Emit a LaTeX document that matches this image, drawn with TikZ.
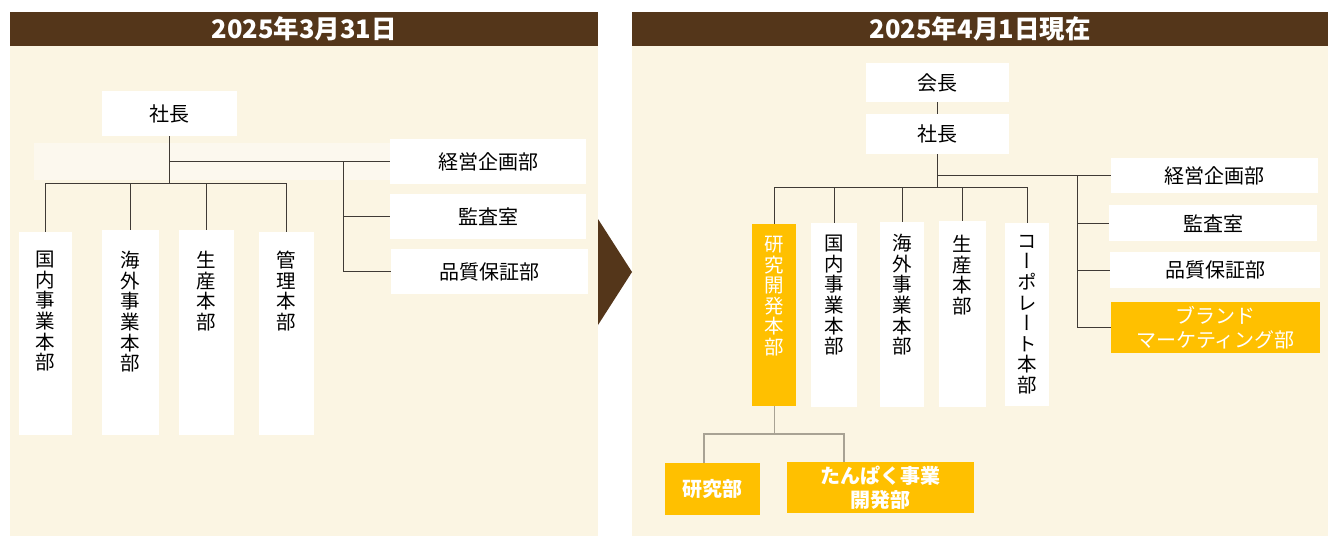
\documentclass[tikz,border=0pt]{standalone}
\usepackage{fontspec}
\setmainfont{Noto Sans CJK JP}
\newfontfamily\vfont[RawFeature=+vert]{Noto Sans CJK JP}
\definecolor{hdr}{HTML}{54361A}
\definecolor{cream}{HTML}{FBF5E3}
\definecolor{creamlight}{HTML}{FCF8EE}
\definecolor{org}{HTML}{FFC000}
\definecolor{ln}{HTML}{3F3A35}
\definecolor{lnlight}{HTML}{A8A294}
\tikzset{
  hdrbar/.style={fill=hdr, draw=none, text=white, anchor=north west, inner sep=0,
    font=\fontsize{25.5}{28}\selectfont\bfseries},
  wbox/.style={fill=white, draw=none, anchor=north west, inner sep=0, align=center,
    font=\fontsize{20}{24}\selectfont},
  obox/.style={wbox, fill=org, text=white},
  vt/.style={anchor=north, inner sep=0, align=center,
    font=\vfont\fontsize{19.5}{20.6}\selectfont},
  conn/.style={draw=ln, line width=0.9pt},
  connl/.style={draw=lnlight, line width=1.3pt},
}
\begin{document}
\begin{tikzpicture}[x=1pt,y=-1pt]
\useasboundingbox (0,0) rectangle (1328,536);
\fill[white] (0,0) rectangle (1328,536);
% panels
\fill[cream] (10,45) rectangle (598,536);
\fill[cream] (632,45) rectangle (1328,536);
\fill[creamlight] (34,143) rectangle (390,180);
\node[hdrbar, minimum width=588pt, minimum height=34pt] (LH) at (10,12) {2025年3月31日};
\node[hdrbar, minimum width=696pt, minimum height=34pt] (RH) at (632,12) {2025年4月1日現在};
\fill[hdr] (598,219) -- (632,272) -- (598,325) -- cycle;

% ---------- left chart ----------
\node[wbox, minimum width=135pt, minimum height=45pt] (Lceo) at (102,91) {社長};
\node[wbox, minimum width=196pt, minimum height=45pt] (Lplan) at (390,139) {経営企画部};
\node[wbox, minimum width=196pt, minimum height=45pt] (Laudit) at (390,194) {監査室};
\node[wbox, minimum width=197pt, minimum height=45pt] (Lqa) at (391,249) {品質保証部};
\node[wbox, minimum width=53pt, minimum height=203pt,
  label={[vt, yshift=-19pt]north:国\\内\\事\\業\\本\\部}] (Ld1) at (19,232) {};
\node[wbox, minimum width=57pt, minimum height=205pt,
  label={[vt, yshift=-21pt]north:海\\外\\事\\業\\本\\部}] (Ld2) at (102,230) {};
\node[wbox, minimum width=55pt, minimum height=205pt,
  label={[vt, yshift=-21pt]north:生\\産\\本\\部}] (Ld3) at (179,230) {};
\node[wbox, minimum width=55pt, minimum height=203pt,
  label={[vt, yshift=-19pt]north:管\\理\\本\\部}] (Ld4) at (259,232) {};
\coordinate (Lbar) at (0,183);
\coordinate (Lside) at (343,0);
\draw[conn] (Lceo.south) -- (Lceo.south |- Lbar);
\draw[conn] (Lceo.south |- Lplan.west) -- (Lplan.west);
\draw[conn] (Ld1.north |- Lbar) -- (Ld4.north |- Lbar);
\foreach \n in {Ld1,Ld2,Ld3,Ld4} \draw[conn] (\n.north |- Lbar) -- (\n.north);
\draw[conn] (Lside |- Lplan.west) -- (Lside |- Lqa.west);
\draw[conn] (Lside |- Laudit.west) -- (Laudit.west);
\draw[conn] (Lside |- Lqa.west) -- (Lqa.west);

% ---------- right chart ----------
\node[wbox, minimum width=143pt, minimum height=39pt] (Rchair) at (866,63) {会長};
\node[wbox, minimum width=143pt, minimum height=40pt] (Rceo) at (866,114) {社長};
\node[wbox, minimum width=207pt, minimum height=35pt] (Rplan) at (1111,158) {経営企画部};
\node[wbox, minimum width=208pt, minimum height=36pt] (Raudit) at (1109,205) {監査室};
\node[wbox, minimum width=210pt, minimum height=36pt] (Rqa) at (1110,252) {品質保証部};
\node[obox, minimum width=209pt, minimum height=51pt] (Rbrand) at (1111,302) {ブランド\\マーケティング部};
\node[obox, minimum width=44pt, minimum height=182pt,
  label={[vt, text=white, yshift=-12pt]north:研\\究\\開\\発\\本\\部}] (Rd1) at (752,224) {};
\node[wbox, minimum width=46pt, minimum height=184pt,
  label={[vt, yshift=-12pt]north:国\\内\\事\\業\\本\\部}] (Rd2) at (811,223) {};
\node[wbox, minimum width=44pt, minimum height=185pt,
  label={[vt, yshift=-12pt]north:海\\外\\事\\業\\本\\部}] (Rd3) at (880,222) {};
\node[wbox, minimum width=47pt, minimum height=186pt,
  label={[vt, yshift=-14pt]north:生\\産\\本\\部}] (Rd4) at (939,221) {};
\node[wbox, minimum width=44pt, minimum height=183pt,
  label={[vt, yshift=-12pt]north:コ\\ー\\ポ\\レ\\ー\\ト\\本\\部}] (Rd5) at (1005,223) {};
\node[obox, minimum width=95pt, minimum height=52pt, font=\fontsize{20}{24}\selectfont\bfseries] (Rlab) at (665,463) {研究部};
\node[obox, minimum width=187pt, minimum height=51pt, font=\fontsize{20}{24}\selectfont\bfseries] (Rprot) at (787,462) {たんぱく事業\\開発部};
\coordinate (Rbar) at (0,187);
\coordinate (Rside) at (1077,0);
\coordinate (Rbar2) at (0,434);
\draw[conn] (Rchair.south) -- (Rceo.north);
\draw[conn] (Rceo.south) -- (Rceo.south |- Rbar);
\draw[conn] (Rceo.south |- Rplan.west) -- (Rplan.west);
\draw[conn] (Rd1.north |- Rbar) -- (Rd5.north |- Rbar);
\foreach \n in {Rd1,Rd2,Rd3,Rd4,Rd5} \draw[conn] (\n.north |- Rbar) -- (\n.north);
\draw[conn] (Rside |- Rplan.west) -- (Rside |- Rbrand.west);
\draw[conn] (Rside |- Raudit.west) -- (Raudit.west);
\draw[conn] (Rside |- Rqa.west) -- (Rqa.west);
\draw[conn] (Rside |- Rbrand.west) -- (Rbrand.west);
\coordinate (RlabT) at ([xshift=39pt]Rlab.north west);
\coordinate (RprotT) at ([xshift=57pt]Rprot.north west);
\draw[connl] (Rd1.south) -- (Rd1.south |- Rbar2);
\draw[connl] (RlabT) -- (RlabT |- Rbar2) -- (RprotT |- Rbar2) -- (RprotT);
\end{tikzpicture}
\end{document}
